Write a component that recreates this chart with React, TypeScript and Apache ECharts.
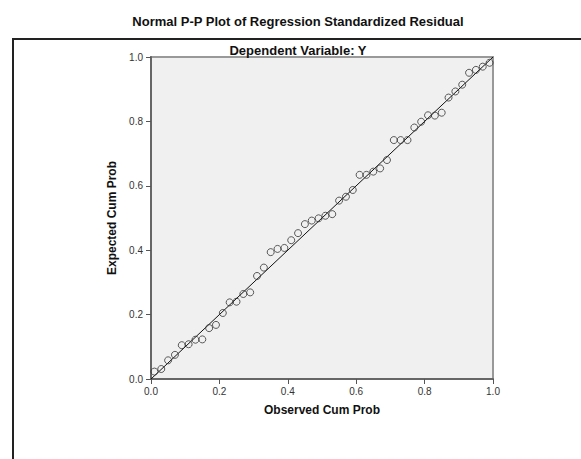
import React, { useEffect, useRef } from "react";
import * as echarts from "echarts";

const titleText = "Normal P-P Plot of Regression Standardized Residual";
const subtitleText = "Dependent Variable: Y";
const xAxisName = "Observed Cum Prob";
const yAxisName = "Expected Cum Prob";

const observed = [
  0.01, 0.03, 0.05, 0.07, 0.09, 0.11, 0.13, 0.15, 0.17, 0.19,
  0.21, 0.23, 0.25, 0.27, 0.29, 0.31, 0.33, 0.35, 0.37, 0.39,
  0.41, 0.43, 0.45, 0.47, 0.49, 0.51, 0.53, 0.55, 0.57, 0.59,
  0.61, 0.63, 0.65, 0.67, 0.69, 0.71, 0.73, 0.75, 0.77, 0.79,
  0.81, 0.83, 0.85, 0.87, 0.89, 0.91, 0.93, 0.95, 0.97, 0.99,
];
const expected = [
  0.023, 0.031, 0.058, 0.075, 0.105, 0.108, 0.122, 0.123, 0.158, 0.168,
  0.205, 0.238, 0.24, 0.264, 0.269, 0.32, 0.346, 0.394, 0.404, 0.407,
  0.431, 0.453, 0.481, 0.492, 0.499, 0.507, 0.512, 0.554, 0.566, 0.587,
  0.634, 0.634, 0.644, 0.654, 0.68, 0.742, 0.742, 0.742, 0.781, 0.799,
  0.819, 0.818, 0.827, 0.874, 0.893, 0.914, 0.951, 0.96, 0.97, 0.982,
];
const refLine = [
  [0, 0],
  [1, 1],
];

const FONT = 'Arial, "Liberation Sans", sans-serif';

export default function App() {
  const ref = useRef<HTMLDivElement>(null);
  useEffect(() => {
    if (!ref.current) return;
    const chart = echarts.init(ref.current, null, { renderer: "svg" });
    const points = observed.map((x, i) => [x, expected[i]]);
    chart.setOption({
      animation: false,
      backgroundColor: "#ffffff",
      graphic: [
        {
          type: "rect",
          shape: { x: 13, y: 39, width: 620, height: 500 },
          style: { fill: "none", stroke: "#222", lineWidth: 2 },
          z: 100,
        },
        {
          type: "text",
          x: 298,
          y: 21,
          style: {
            text: titleText,
            fontFamily: FONT,
            fontSize: 13,
            fontWeight: "bold",
            fill: "#111",
            textAlign: "center",
            textVerticalAlign: "middle",
          },
        },
        {
          type: "text",
          x: 298,
          y: 50,
          style: {
            text: subtitleText,
            fontFamily: FONT,
            fontSize: 13,
            fontWeight: "bold",
            fill: "#111",
            textAlign: "center",
            textVerticalAlign: "middle",
          },
        },
      ],
      grid: {
        left: 151,
        top: 57,
        right: 88,
        bottom: 80,
        show: true,
        backgroundColor: "#f0f0f0",
        borderColor: "#999",
        borderWidth: 2,
      },
      xAxis: {
        type: "value",
        min: 0,
        max: 1,
        interval: 0.2,
        name: xAxisName,
        nameLocation: "middle",
        nameGap: 25,
        nameTextStyle: {
          fontFamily: FONT,
          fontSize: 12,
          fontWeight: "bold",
          color: "#111",
          verticalAlign: "top",
        },
        axisLine: { show: true, lineStyle: { color: "#666", width: 2 } },
        axisTick: { show: true, length: 5, lineStyle: { color: "#555" } },
        axisLabel: {
          margin: 7,
          fontFamily: FONT,
          fontSize: 10,
          color: "#333",
          formatter: (v: number) => v.toFixed(1),
        },
        splitLine: { show: false },
      },
      yAxis: {
        type: "value",
        min: 0,
        max: 1,
        interval: 0.2,
        name: yAxisName,
        nameLocation: "middle",
        nameGap: 30,
        nameTextStyle: {
          fontFamily: FONT,
          fontSize: 12,
          fontWeight: "bold",
          color: "#111",
        },
        axisLine: { show: true, lineStyle: { color: "#666", width: 2 } },
        axisTick: { show: true, length: 5, lineStyle: { color: "#555" } },
        axisLabel: {
          margin: 8,
          fontFamily: FONT,
          fontSize: 10,
          color: "#333",
          formatter: (v: number) => v.toFixed(1),
        },
        splitLine: { show: false },
      },
      series: [
        {
          type: "line",
          data: refLine,
          symbol: "none",
          lineStyle: { color: "#111", width: 1 },
          silent: true,
          z: 2,
        },
        {
          type: "scatter",
          data: points,
          symbol: "circle",
          symbolSize: 7,
          itemStyle: {
            color: "rgba(0,0,0,0)",
            borderColor: "#333",
            borderWidth: 1,
          },
          z: 3,
        },
      ],
    });
    return () => chart.dispose();
  }, []);
  return (
    <div
      ref={ref}
      style={{ position: "fixed", left: 0, top: 0, width: 581, height: 459 }}
    />
  );
}
